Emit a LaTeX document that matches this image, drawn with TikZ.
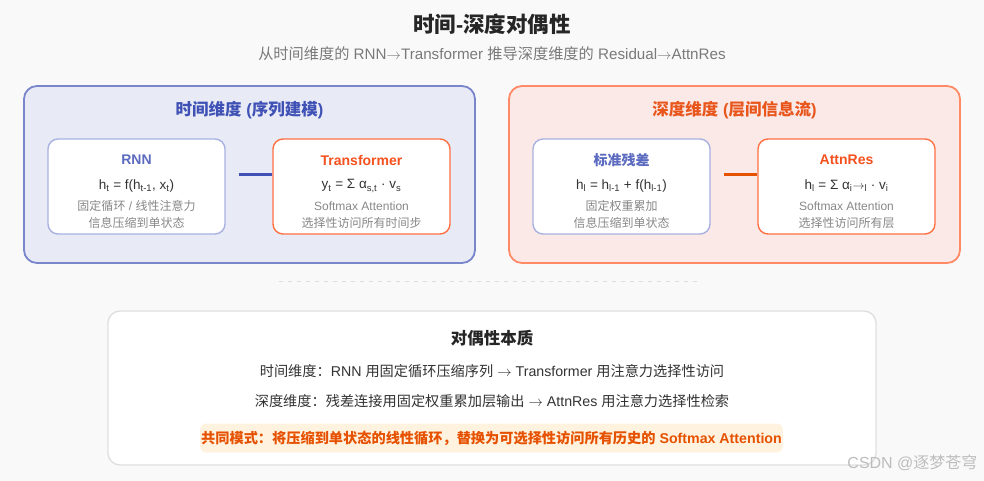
\documentclass[tikz,border=0pt]{standalone}
\usepackage{fontspec}
\setmainfont{Liberation Sans}
\newfontfamily\cjkfont{Noto Sans CJK SC}
\XeTeXinterchartokenstate=1
\newXeTeXintercharclass\cjkclass
\newcount\cjkcnt
\newcommand\cjkrange[2]{\cjkcnt=#1\relax
  \loop \XeTeXcharclass\cjkcnt=\cjkclass \ifnum\cjkcnt<#2\relax \advance\cjkcnt by 1 \repeat}
\cjkrange{"4E00}{"9FFF}
\cjkrange{"3000}{"303F}
\cjkrange{"FF00}{"FFEF}
\XeTeXinterchartoks 0 \cjkclass = {\cjkfont}
\XeTeXinterchartoks 4095 \cjkclass = {\cjkfont}
\XeTeXinterchartoks \cjkclass 0 = {\rmfamily}
\XeTeXinterchartoks \cjkclass 4095 = {\rmfamily}
\newcommand\fsz[1]{\fontsize{#1}{#1}\selectfont}
\newcommand\arr{\ensuremath{\rightarrow}}
\definecolor{bgc}{HTML}{F9F9F9}
\definecolor{lpanelF}{HTML}{E8EAF6}
\definecolor{lpanelB}{HTML}{7986CB}
\definecolor{lblue}{HTML}{3F51B5}
\definecolor{cardtitleblue}{HTML}{5C6BC0}
\definecolor{cardB}{HTML}{A9B1E0}
\definecolor{rpanelF}{HTML}{FBE9E7}
\definecolor{rpanelB}{HTML}{FF8A65}
\definecolor{rorange}{HTML}{E8561C}
\definecolor{orangeB}{HTML}{FF7043}
\definecolor{orangeT}{HTML}{F4511E}
\definecolor{deeporange}{HTML}{E65100}
\definecolor{darktext}{HTML}{333333}
\definecolor{graytext}{HTML}{888888}
\definecolor{subgray}{HTML}{7A7A7A}
\definecolor{hlfill}{HTML}{FFF3E0}
\definecolor{boxB}{HTML}{E0E0E0}
\definecolor{dashc}{HTML}{DDDDDD}
\definecolor{wmark}{HTML}{BDBDBD}
\tikzset{
  panel/.style={draw, line width=1.8pt, rounded corners=13pt, minimum width=451pt, minimum height=177pt, inner sep=0pt},
  card/.style={draw, fill=white, line width=1.4pt, rounded corners=10pt, minimum width=177pt, minimum height=95pt, inner sep=0pt},
  ptitle/.style={font=\bfseries\fsz{16.5}},
  ctitle/.style={font=\bfseries\fsz{14}},
  formula/.style={font=\fsz{13.5}, text=darktext},
  note/.style={font=\fsz{12}, text=graytext},
  link/.style={line width=3pt},
  bodyline/.style={font=\fsz{14.2}, text=darktext},
}
\begin{document}
\begin{tikzpicture}[x=1pt,y=-1pt]
\useasboundingbox (0,0) rectangle (984,481);
\fill[bgc] (0,0) rectangle (984,481);

% titles
\node[font=\bfseries\fsz{21.5}, text=black!85] (title) at (492,24) {时间-深度对偶性};
\node[font=\fsz{15.2}, text=subgray] (subtitle) at (492,54) {从时间维度的 RNN\arr Transformer 推导深度维度的 Residual\arr AttnRes};

% left panel
\node[panel, draw=lpanelB, fill=lpanelF] (lp) at (249.5,174.5) {};
\node[ptitle, text=lblue] (lpt) at (249.5,110) {时间维度 (序列建模)};
\node[card, draw=cardB] (rnn) at (136.5,186.5) {};
\node[ctitle, text=cardtitleblue] (rnnT) at (136.5,160) {RNN};
\node[formula] (rnnF) at (136.5,186) {h\textsubscript{t} = f(h\textsubscript{t-1}, x\textsubscript{t})};
\node[note] (rnnN1) at (136.5,206) {固定循环 / 线性注意力};
\node[note] (rnnN2) at (136.5,223) {信息压缩到单状态};

\node[card, draw=orangeB] (tf) at (361.5,186.5) {};
\node[ctitle, text=orangeT] (tfT) at (361.5,160) {Transformer};
\node[formula] (tfF) at (361.5,186) {y\textsubscript{t} = Σ α\textsubscript{s,t} · v\textsubscript{s}};
\node[note] (tfN1) at (361.5,206) {Softmax Attention};
\node[note] (tfN2) at (361.5,223) {选择性访问所有时间步};

\draw[link, draw=lblue] ([xshift=13pt,yshift=11.5pt]rnn.east) -- ([yshift=11.5pt]tf.west);

% right panel
\node[panel, draw=rpanelB, fill=rpanelF] (rp) at (734.5,174.5) {};
\node[ptitle, text=rorange] (rpt) at (734.5,110) {深度维度 (层间信息流)};
\node[card, draw=cardB] (res) at (621.5,186.5) {};
\node[ctitle, text=cardtitleblue] (resT) at (621.5,160) {标准残差};
\node[formula] (resF) at (621.5,186) {h\textsubscript{l} = h\textsubscript{l-1} + f(h\textsubscript{l-1})};
\node[note] (resN1) at (621.5,206) {固定权重累加};
\node[note] (resN2) at (621.5,223) {信息压缩到单状态};

\node[card, draw=orangeB] (ar) at (846.5,186.5) {};
\node[ctitle, text=orangeT] (arT) at (846.5,160) {AttnRes};
\node[formula] (arF) at (846.5,186) {h\textsubscript{l} = Σ α\textsubscript{i}{\fsz{12}\arr}\textsubscript{l} · v\textsubscript{i}};
\node[note] (arN1) at (846.5,206) {Softmax Attention};
\node[note] (arN2) at (846.5,223) {选择性访问所有层};

\draw[link, draw=deeporange] ([xshift=13pt,yshift=11.5pt]res.east) -- ([yshift=11.5pt]ar.west);

% separator
\coordinate (dl) at (279,281);
\coordinate (dr) at (700,281);
\draw[dashc, line width=1pt, dash pattern=on 4pt off 5pt] (dl) -- (dr);

% bottom box
\node[draw=boxB, fill=white, line width=1.4pt, rounded corners=12pt, minimum width=768pt, minimum height=154pt] (bot) at (492,388) {};
\node[font=\bfseries\fsz{16.5}, text=black!85] (botT) at (492,338) {对偶性本质};
\node[bodyline] (botL1) at (492,371) {时间维度：RNN 用固定循环压缩序列 \arr\ Transformer 用注意力选择性访问};
\node[bodyline] (botL2) at (492,401) {深度维度：残差连接用固定权重累加层输出 \arr\ AttnRes 用注意力选择性检索};
\node[fill=hlfill, rounded corners=6pt, minimum height=29pt, inner xsep=1pt, font=\bfseries\fsz{14.2}, text=deeporange] (hl) at (491.5,438) {共同模式：将压缩到单状态的线性循环，替换为可选择性访问所有历史的 Softmax Attention};

% watermark
\node[font=\fsz{16}, text=wmark, anchor=east] (wm) at (981,463) {CSDN @逐梦苍穹};
\end{tikzpicture}
\end{document}
